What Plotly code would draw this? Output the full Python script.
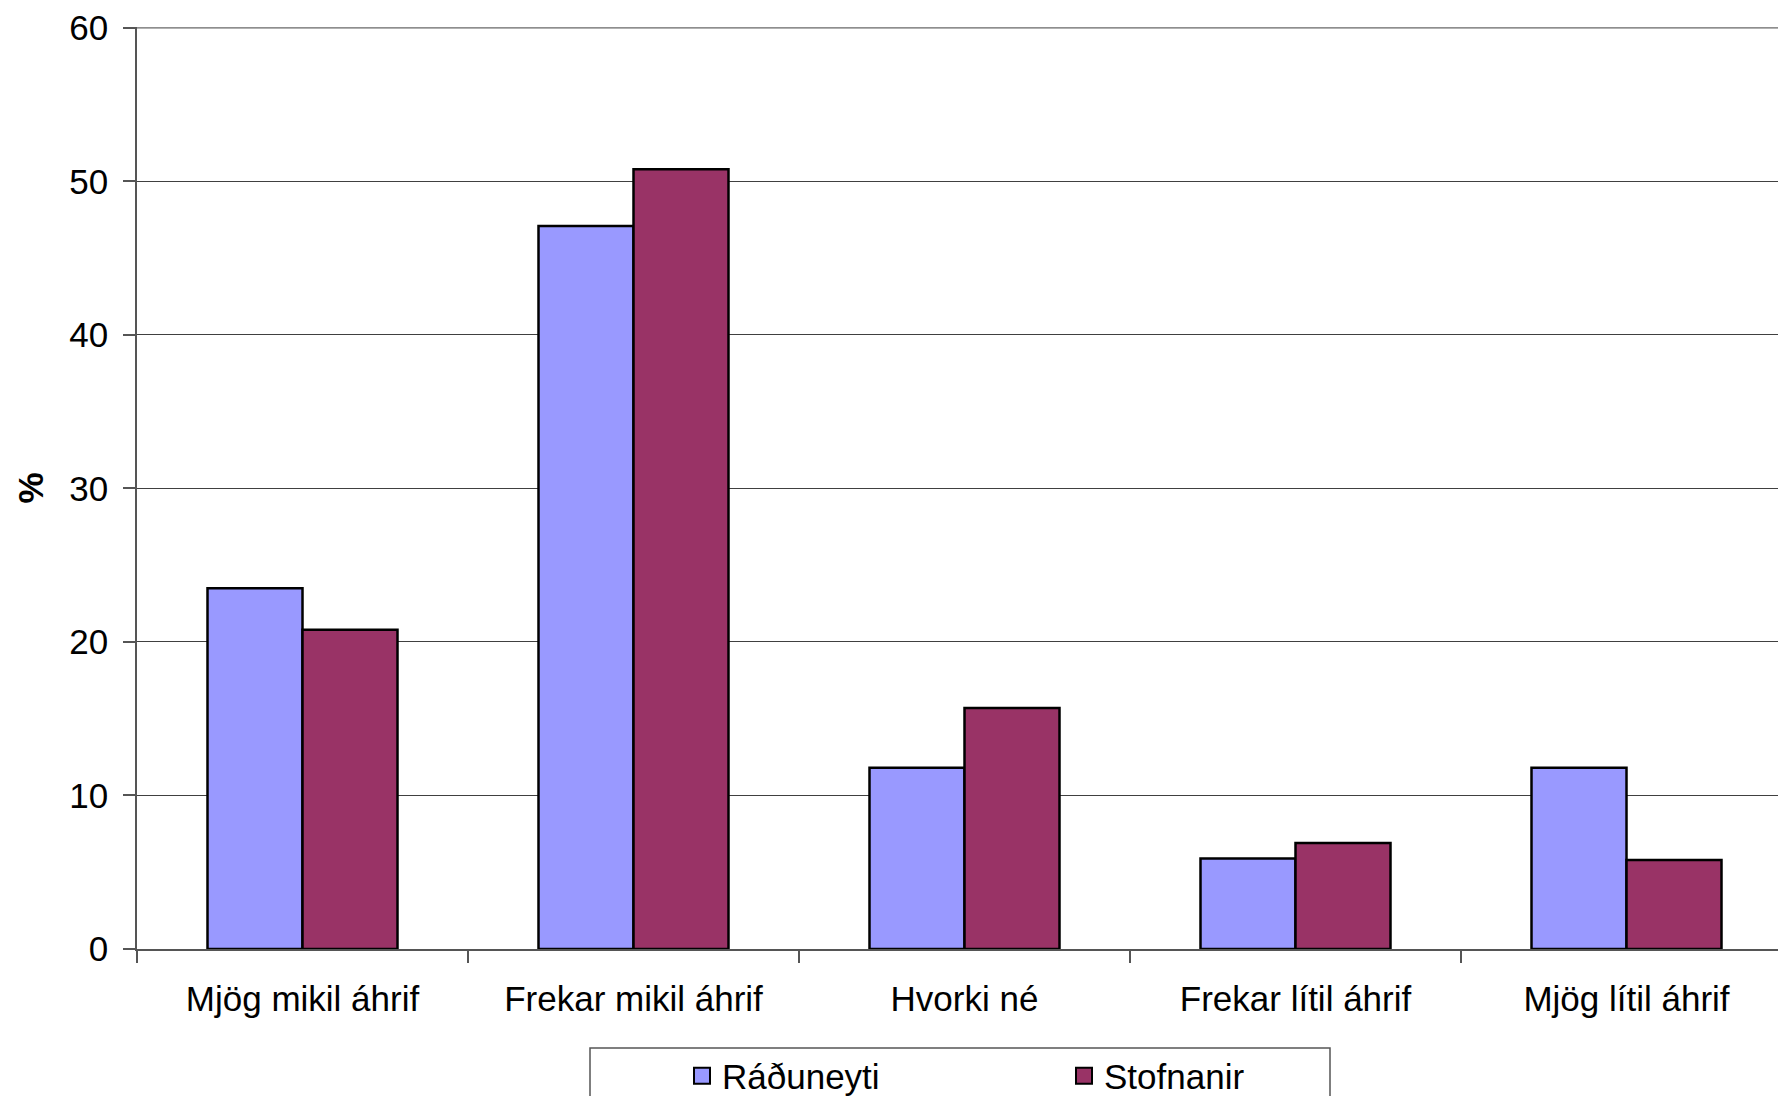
import plotly.graph_objects as go

categories = ["Mjög mikil áhrif", "Frekar mikil áhrif", "Hvorki né", "Frekar lítil áhrif", "Mjög lítil áhrif"]
raduneyti = [23.5, 47.1, 11.8, 5.9, 11.8]
stofnanir = [20.8, 50.8, 15.7, 6.9, 5.8]
series_names = ["Ráðuneyti", "Stofnanir"]
series_colors = ["#9999FF", "#993366"]
y_ticks = [0, 10, 20, 30, 40, 50, 60]

FONT = "Liberation Sans, Arial, sans-serif"

# page body has an 8px margin; plot area in window: x 137..1794, y 27..949
L, T, PH = 129, 19, 922
W, H = 1786, 1130
PW = W - L
PX0, PY1 = 137, 949


def px_x(x):
    return (x - PX0) / PW


def px_y(y):
    return -(y - PY1) / PH


fig = go.Figure()
for vals, name, col in zip([raduneyti, stofnanir], series_names, series_colors):
    fig.add_trace(go.Bar(x=categories, y=vals, name=name, showlegend=False, legendgroup=name,
                         marker=dict(color=col, line=dict(color="black", width=2.5))))
# legend entries with larger square keys
for name, col in zip(series_names, series_colors):
    fig.add_trace(go.Scatter(x=[None], y=[None], mode="markers", name=name, legendgroup=name,
                             marker=dict(symbol="square", size=17, color=col,
                                         line=dict(color="black", width=2))))

# top gridline (plotly drops the gridline at the very edge of the range)
fig.add_shape(type="line", xref="paper", yref="y", x0=0, x1=1,
              y0=y_ticks[-1], y1=y_ticks[-1], line=dict(color="#404040", width=1), layer="below")

# legend frame (cropped at bottom in the reference)
fig.add_shape(type="rect", xref="paper", yref="paper",
              x0=px_x(590), x1=px_x(1330), y0=px_y(1140), y1=px_y(1048),
              line=dict(color="#555555", width=1.5), fillcolor="rgba(0,0,0,0)")

fig.update_layout(
    width=W, height=H,
    margin=dict(l=L, r=0, t=T, b=H - T - PH),
    plot_bgcolor="white", paper_bgcolor="white",
    font=dict(family=FONT, size=35, color="black"),
    barmode="group", bargap=0.426, bargroupgap=0,
    showlegend=True,
    legend=dict(orientation="h", x=px_x(682), xanchor="left",
                y=px_y(1076), yanchor="middle",
                entrywidth=337, entrywidthmode="pixels",
                font=dict(size=35, family=FONT), bgcolor="rgba(0,0,0,0)",
                borderwidth=0, traceorder="normal"),
    xaxis=dict(range=[-0.5, -0.5 + PW / 331.0], showline=True, linecolor="#555555", linewidth=1.5,
               ticks="outside", tickson="boundaries", ticklen=12, tickcolor="#555555",
               tickwidth=1.5, showgrid=False, ticklabelstandoff=18,
               tickfont=dict(size=35, family=FONT)),
    yaxis=dict(range=[0, 60.06], tickvals=y_ticks, showline=True, linecolor="#555555",
               linewidth=1.5, ticks="outside", ticklen=12, tickcolor="#555555",
               tickwidth=1.5, showgrid=True, gridcolor="#404040", gridwidth=1,
               zeroline=False, ticklabelstandoff=8, ticklabeloverflow="allow",
               tickfont=dict(size=35, family=FONT),
               title=dict(text="<b>%</b>", font=dict(size=35, family=FONT), standoff=15)),
)

fig.write_html("out.html")
